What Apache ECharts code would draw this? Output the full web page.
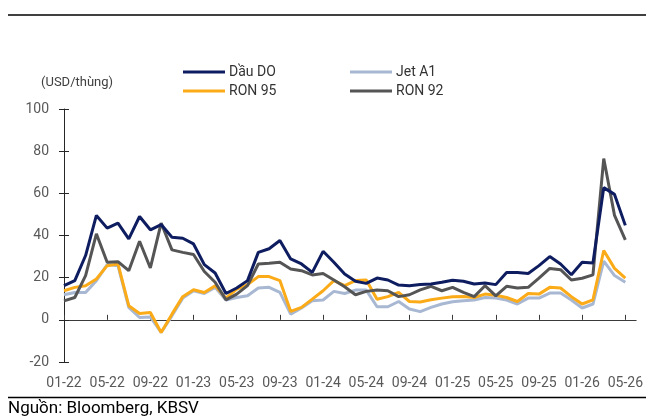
<!DOCTYPE html>
<html>
<head>
<meta charset="utf-8">
<script src="https://cdn.jsdelivr.net/npm/echarts@6/dist/echarts.min.js"></script>
<style>
html,body{margin:0;padding:0;background:#fff;}
#chart{width:646px;height:419px;}
</style>
</head>
<body>
<div id="chart"></div>
<script>
var categories = ['01-22','02-22','03-22','04-22','05-22','06-22','07-22','08-22','09-22','10-22','11-22','12-22',
  '01-23','02-23','03-23','04-23','05-23','06-23','07-23','08-23','09-23','10-23','11-23','12-23',
  '01-24','02-24','03-24','04-24','05-24','06-24','07-24','08-24','09-24','10-24','11-24','12-24',
  '01-25','02-25','03-25','04-25','05-25','06-25','07-25','08-25','09-25','10-25','11-25','12-25',
  '01-26','02-26','03-26','04-26','05-26','06-26'];

var dauDO = [16.2,18.6,30.5,49.5,43.5,45.9,38.4,49,42.7,45.2,39.2,38.7,
  36,26.2,22.2,12.5,15.1,18.6,32,33.7,37.6,28.9,26.5,22.5,
  32.5,27.3,21.7,18.3,17.3,19.8,18.9,16.5,16.2,16.8,17,17.8,
  18.8,18.3,17,17.5,16.7,22.5,22.5,22,25.7,30,26.5,21.4,
  27.3,27,62.7,59.5,44.8];

var jetA1 = [11.9,13,13,18.6,26.2,25.7,5.9,1.1,1.4,-6,1.9,10.3,
  13.8,12.5,15.4,9.4,10.6,11.4,15.1,15.4,13,2.7,5.6,9,
  9.4,13.5,12.5,14.1,14.1,6.2,6.2,8.7,5.1,3.9,5.9,7.5,
  8.6,9,9.4,10.6,10.3,9.4,7.5,10.3,10.3,12.7,12.7,9.4,
  5.6,7.5,27.8,21,17.8];

var ron95 = [13.8,15.4,16.2,19.4,25.7,26.5,6.7,3,3.5,-6,2.7,11,
  14.3,13,16.2,10.3,14.6,16.7,20.5,20.5,18.6,4,5.9,9.8,
  13.8,18.6,16.2,18.6,18.9,9.8,11,13,8.7,8.5,9.5,10.3,
  11,11.1,10.6,12.2,11.7,10.6,8.7,12.5,12.2,15.4,15.1,11,
  7.5,9.5,32.9,24.4,19.8];

var ron92 = [9,10.6,21,40.8,27.3,27.6,23.3,37.3,24.6,45.9,33.2,32,
  31,22.9,17.8,9.5,12.2,16.2,26.5,26.8,27.3,24.1,23.3,21.3,
  22,18.9,15.7,11.9,13.5,14.1,13.8,11,11.9,14.2,15.9,13.8,
  15.4,13,11,16.2,11.4,15.9,15.1,15.4,19.8,24.4,23.8,18.9,
  19.7,21.3,76.5,49.5,37.9];

var yTicks = [-20, 0, 20, 40, 60, 80, 100];

var FONT = 'Roboto';
var colors = {dauDO:'#0e1c60', jetA1:'#a8b8d2', ron95:'#fbab18', ron92:'#555555'};

var chart = echarts.init(document.getElementById('chart'), null, {renderer:'canvas'});

function legendItem(name, left, top){
  return {
    data:[name], left:left, top:top, icon:'rect', itemWidth:42, itemHeight:3, itemGap:0,
    textStyle:{fontFamily:FONT, fontSize:14, color:'#333333', padding:[0,0,0,-1]},
    padding:0, selectedMode:false
  };
}

var yMin = yTicks[0], yMax = yTicks[yTicks.length-1], yInt = yTicks[1]-yTicks[0];

var option = {
  animation:false,
  backgroundColor:'#ffffff',
  textStyle:{fontFamily:FONT},
  grid:{left:64, right:8, top:109, bottom:57, containLabel:false},
  legend:[
    legendItem('Dầu DO', 183, 65),
    legendItem('Jet A1', 350, 65),
    legendItem('RON 95', 183, 84),
    legendItem('RON 92', 350, 84)
  ],
  xAxis:{
    type:'category', data:categories, boundaryGap:false,
    axisLine:{lineStyle:{color:'#3a3a3a', width:1}},
    axisTick:{inside:true, length:5, interval:3, lineStyle:{color:'#3a3a3a'}},
    axisLabel:{interval:3, color:'#595959', fontFamily:FONT, fontSize:14, margin:14},
    splitLine:{show:false}
  },
  yAxis:[{
    type:'value', min:yMin, max:yMax, interval:yInt,
    axisLine:{show:true, lineStyle:{color:'#262626', width:1}},
    axisTick:{show:true, inside:false, length:5, lineStyle:{color:'#262626'}},
    axisLabel:{color:'#595959', fontFamily:FONT, fontSize:14, margin:15},
    splitLine:{show:false}
  },{
    type:'value', min:yMin, max:yMax, interval:yInt, position:'left',
    axisLine:{show:false},
    axisTick:{show:true, inside:true, length:5, lineStyle:{color:'#262626'}},
    axisLabel:{show:false},
    splitLine:{show:false}
  }],
  series:[
    {name:'Jet A1', type:'line', data:jetA1, showSymbol:false, symbol:'none', z:2,
      lineStyle:{color:colors.jetA1, width:3}, itemStyle:{color:colors.jetA1}},
    {name:'RON 95', type:'line', data:ron95, showSymbol:false, symbol:'none', z:3,
      lineStyle:{color:colors.ron95, width:3}, itemStyle:{color:colors.ron95}},
    {name:'RON 92', type:'line', data:ron92, showSymbol:false, symbol:'none', z:4,
      lineStyle:{color:colors.ron92, width:3}, itemStyle:{color:colors.ron92}},
    {name:'Dầu DO', type:'line', data:dauDO, showSymbol:false, symbol:'none', z:5,
      lineStyle:{color:colors.dauDO, width:3}, itemStyle:{color:colors.dauDO}}
  ],
  graphic:[
    {type:'line', shape:{x1:8, y1:15, x2:646, y2:15}, style:{stroke:'#000', lineWidth:1.5}},
    {type:'line', shape:{x1:8, y1:397.5, x2:646, y2:397.5}, style:{stroke:'#000', lineWidth:1.5}},
    {type:'text', left:41, top:76, style:{text:'(USD/thùng)', font:'13px Roboto', fill:'#404040'}},
    {type:'text', left:8, top:400, style:{text:'Nguồn: Bloomberg, KBSV', font:'17px Roboto', fill:'#000000'}}
  ]
};
chart.setOption(option);
</script>
</body>
</html>
